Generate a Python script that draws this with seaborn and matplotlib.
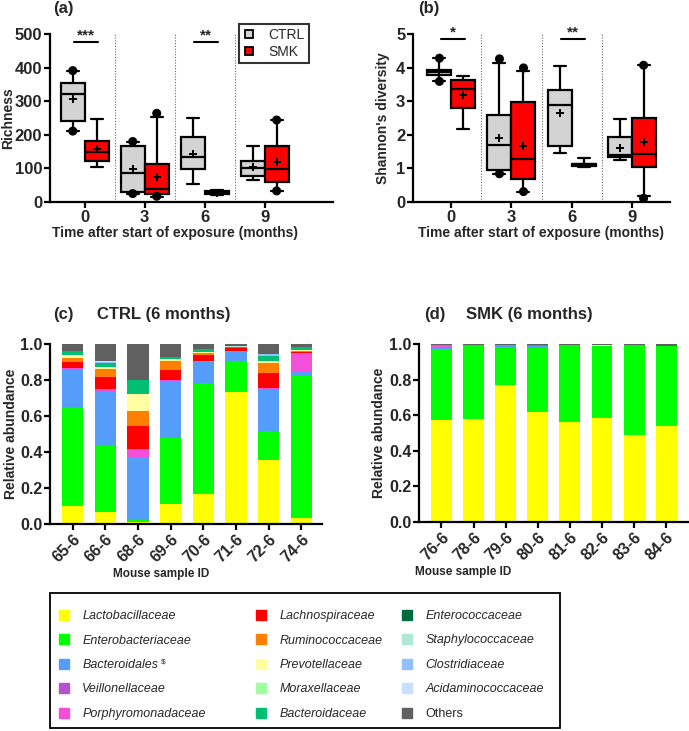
import numpy as np
import pandas as pd
import matplotlib
matplotlib.use("Agg")
import matplotlib.pyplot as plt
from matplotlib.lines import Line2D
from matplotlib.patches import Rectangle
import seaborn as sns

sns.set_theme(style="ticks")
plt.rcParams['font.family'] = ['Liberation Sans', 'DejaVu Sans']
plt.rcParams['font.weight'] = 'bold'
plt.rcParams['axes.labelweight'] = 'bold'

# ---------------- alpha diversity data ----------------
TIMES = ["0", "3", "6", "9"]
GROUPS = ["CTRL", "SMK"]
GROUP_COLORS = ["#D3D3D3", "#FF0000"]

# five-number summaries per time point: [whisker low, Q1, median, Q3, whisker high]
RICH_CTRL = [[211, 241, 321, 353, 391], [25, 30, 85, 167, 180],
             [53, 98, 133, 193, 249], [65, 78, 100, 123, 167]]
RICH_SMK = [[103, 123, 149, 183, 247], [15, 23, 39, 114, 252],
            [20, 24, 27, 32, 35], [33, 60, 98, 167, 244]]
RICH_MEAN_CTRL = [306, 97, 144, 103]
RICH_MEAN_SMK = [157, 75, 27, 118]
RICH_POINT_TIME = ["0", "0", "3", "3", "3", "3", "9", "9"]
RICH_POINT_GROUP = ["CTRL", "CTRL", "CTRL", "CTRL", "SMK", "SMK", "SMK", "SMK"]
RICH_POINT_VALUE = [211, 391, 25, 180, 17, 264, 33, 244]

SHAN_CTRL = [[3.59, 3.77, 3.87, 3.93, 4.28], [0.84, 0.95, 1.71, 2.59, 4.13],
             [1.47, 1.67, 2.89, 3.33, 4.05], [1.25, 1.35, 1.39, 1.94, 2.47]]
SHAN_SMK = [[2.16, 2.80, 3.37, 3.63, 3.74], [0.31, 0.69, 1.27, 2.98, 3.90],
            [1.05, 1.08, 1.12, 1.14, 1.32], [0.18, 1.05, 1.42, 2.51, 4.07]]
SHAN_MEAN_CTRL = [3.86, 1.90, 2.66, 1.62]
SHAN_MEAN_SMK = [3.18, 1.67, 1.13, 1.79]
SHAN_POINT_TIME = ["0", "0", "3", "3", "3", "3", "9", "9"]
SHAN_POINT_GROUP = ["CTRL", "CTRL", "CTRL", "CTRL", "SMK", "SMK", "SMK", "SMK"]
SHAN_POINT_VALUE = [3.59, 4.28, 0.84, 4.26, 0.31, 3.99, 0.11, 4.07]

SIG_TIME_A = ["0", "6"]
SIG_TEXT_A = ["***", "**"]
SIG_Y_A = 475
SIG_TIME_B = ["0", "6"]
SIG_TEXT_B = ["*", "**"]
SIG_Y_B = 4.85

# ---------------- relative abundance data ----------------
FAMILIES = ["Lactobacillaceae", "Enterobacteriaceae", "Bacteroidales", "Veillonellaceae",
            "Porphyromonadaceae", "Lachnospiraceae", "Ruminococcaceae", "Prevotellaceae",
            "Moraxellaceae", "Bacteroidaceae", "Enterococcaceae", "Staphylococcaceae",
            "Clostridiaceae", "Acidaminococcaceae", "Others"]
FAMILY_COLORS = ["#FFFF00", "#00FF00", "#559DFB", "#B452CD", "#F54FD9", "#FF0000",
                 "#FF7F00", "#FFFFA0", "#A0FFA0", "#00BF73", "#006A40", "#B0E8D8",
                 "#90C0FF", "#C8E0FF", "#606060"]

CTRL_SAMPLES = ["65-6", "66-6", "68-6", "69-6", "70-6", "71-6", "72-6", "74-6"]
CTRL_LACTO = [0.100, 0.069, 0.010, 0.110, 0.165, 0.732, 0.353, 0.035]
CTRL_ENTEROBAC = [0.550, 0.369, 0.012, 0.370, 0.617, 0.174, 0.161, 0.789]
CTRL_BACTEROIDALES = [0.210, 0.294, 0.350, 0.314, 0.125, 0.055, 0.238, 0.022]
CTRL_VEILLON = [0, 0, 0, 0, 0, 0, 0, 0]
CTRL_PORPHYRO = [0.007, 0.020, 0.046, 0.008, 0, 0, 0.006, 0.102]
CTRL_LACHNO = [0.034, 0.065, 0.125, 0.054, 0.033, 0.017, 0.083, 0.008]
CTRL_RUMINO = [0.024, 0.046, 0.086, 0.050, 0.010, 0, 0.053, 0.004]
CTRL_PREVO = [0.013, 0.011, 0.091, 0.012, 0.008, 0, 0.010, 0.006]
CTRL_MORAX = [0.003, 0, 0, 0, 0, 0.002, 0, 0]
CTRL_BACTEROIDACEAE = [0.022, 0.022, 0.081, 0.008, 0.014, 0.004, 0.030, 0.019]
CTRL_ENTEROCOC = [0, 0, 0, 0.003, 0, 0, 0, 0]
CTRL_STAPHYLO = [0, 0, 0, 0, 0, 0.004, 0, 0]
CTRL_CLOSTRI = [0, 0.006, 0, 0, 0, 0, 0.008, 0]
CTRL_ACIDAMINO = [0, 0.005, 0, 0, 0, 0, 0, 0]
CTRL_OTHERS = [0.037, 0.093, 0.199, 0.071, 0.028, 0.012, 0.058, 0.015]

SMK_SAMPLES = ["76-6", "78-6", "79-6", "80-6", "81-6", "82-6", "83-6", "84-6"]
SMK_LACTO = [0.573, 0.580, 0.772, 0.620, 0.560, 0.585, 0.487, 0.539]
SMK_ENTEROBAC = [0.399, 0.410, 0.212, 0.359, 0.432, 0.403, 0.503, 0.452]
SMK_BACTEROIDALES = [0.006, 0.004, 0.010, 0.010, 0, 0, 0, 0]
SMK_VEILLON = [0, 0, 0, 0, 0, 0, 0, 0]
SMK_PORPHYRO = [0.016, 0, 0, 0, 0, 0, 0.004, 0]
SMK_LACHNO = [0, 0, 0, 0, 0, 0, 0, 0]
SMK_RUMINO = [0, 0, 0, 0, 0, 0, 0, 0]
SMK_PREVO = [0, 0, 0, 0, 0, 0, 0, 0]
SMK_MORAX = [0, 0, 0, 0, 0, 0, 0, 0]
SMK_BACTEROIDACEAE = [0, 0, 0, 0.005, 0, 0, 0, 0]
SMK_ENTEROCOC = [0, 0, 0, 0, 0, 0, 0, 0]
SMK_STAPHYLO = [0, 0, 0, 0, 0, 0, 0, 0]
SMK_CLOSTRI = [0.003, 0.003, 0, 0, 0, 0, 0, 0]
SMK_ACIDAMINO = [0, 0, 0, 0, 0, 0.006, 0, 0]
SMK_OTHERS = [0.003, 0.003, 0.006, 0.006, 0.008, 0.006, 0.006, 0.009]

CTRL_LAYERS = [CTRL_LACTO, CTRL_ENTEROBAC, CTRL_BACTEROIDALES, CTRL_VEILLON, CTRL_PORPHYRO,
               CTRL_LACHNO, CTRL_RUMINO, CTRL_PREVO, CTRL_MORAX, CTRL_BACTEROIDACEAE,
               CTRL_ENTEROCOC, CTRL_STAPHYLO, CTRL_CLOSTRI, CTRL_ACIDAMINO, CTRL_OTHERS]
SMK_LAYERS = [SMK_LACTO, SMK_ENTEROBAC, SMK_BACTEROIDALES, SMK_VEILLON, SMK_PORPHYRO,
              SMK_LACHNO, SMK_RUMINO, SMK_PREVO, SMK_MORAX, SMK_BACTEROIDACEAE,
              SMK_ENTEROCOC, SMK_STAPHYLO, SMK_CLOSTRI, SMK_ACIDAMINO, SMK_OTHERS]

# ---------------- figure ----------------
W, H = 689, 731
fig = plt.figure(figsize=(W / 100, H / 100), dpi=100)


def px_axes(left, top, right, bottom):
    return fig.add_axes([left / W, 1 - bottom / H, (right - left) / W, (bottom - top) / H])


def style_axes(ax, tick_size):
    sns.despine(ax=ax)
    for sp in ["left", "bottom"]:
        ax.spines[sp].set_linewidth(1.6)
        ax.spines[sp].set_color("black")
    ax.tick_params(direction="out", length=4, width=1.6, color="black",
                   labelsize=tick_size, pad=1.5)
    for lab in ax.get_xticklabels() + ax.get_yticklabels():
        lab.set_fontweight("bold")


def box_panel(ax, ctrl, smk, mean_ctrl, mean_smk, pt_time, pt_group, pt_value,
              ylim, yticks, ylabel, xlim, sig_times, sig_texts, sig_y, ylab_x, xlab_x):
    rows = []
    for i, t in enumerate(TIMES):
        for g, arr in zip(GROUPS, [ctrl, smk]):
            for v in arr[i]:
                rows.append((t, g, v))
    df = pd.DataFrame(rows, columns=["time", "group", "value"])
    pal = dict(zip(GROUPS, GROUP_COLORS))
    sns.boxplot(data=df, x="time", y="value", hue="group", order=TIMES, hue_order=GROUPS,
                palette=pal, whis=(0, 100), width=0.8, gap=0, linecolor="black",
                linewidth=1.6, showfliers=False, saturation=1, legend=False, ax=ax)
    mdf = pd.DataFrame({"time": TIMES * 2, "group": ["CTRL"] * 4 + ["SMK"] * 4,
                        "value": list(mean_ctrl) + list(mean_smk)})
    sns.stripplot(data=mdf, x="time", y="value", hue="group", order=TIMES, hue_order=GROUPS,
                  dodge=True, jitter=False, marker="P", size=6,
                  palette={"CTRL": "black", "SMK": "black"}, linewidth=0,
                  legend=False, ax=ax)
    pdf = pd.DataFrame({"time": pt_time, "group": pt_group, "value": pt_value})
    sns.stripplot(data=pdf, x="time", y="value", hue="group", order=TIMES, hue_order=GROUPS,
                  dodge=True, jitter=False, marker="o", size=6.5,
                  palette={"CTRL": "black", "SMK": "black"}, linewidth=0,
                  legend=False, ax=ax)
    for xv in [0.5, 1.5, 2.5]:
        ax.axvline(xv, color="#666666", lw=0.8, ls=(0, (1, 1.5)), zorder=0)
    for t, txt in zip(sig_times, sig_texts):
        c = TIMES.index(t)
        ax.plot([c - 0.18, c + 0.22], [sig_y, sig_y], color="black", lw=1.5, clip_on=False)
        ax.text(c + 0.02, sig_y, txt, ha="center", va="bottom", fontsize=11,
                fontweight="bold")
    ax.set_xlim(*xlim)
    ax.set_ylim(*ylim)
    ax.set_yticks(yticks)
    ax.set_ylabel(ylabel, fontsize=10, fontweight="bold")
    ax.set_xlabel("Time after start of exposure (months)", fontsize=10,
                  fontweight="bold", labelpad=2)
    style_axes(ax, 12)
    ax.yaxis.set_label_coords(ylab_x, 0.5)
    ax.xaxis.set_label_coords(xlab_x, -0.143)


# panel (a)
ax_a = px_axes(50, 34, 333, 202)
box_panel(ax_a, RICH_CTRL, RICH_SMK, RICH_MEAN_CTRL, RICH_MEAN_SMK,
          RICH_POINT_TIME, RICH_POINT_GROUP, RICH_POINT_VALUE,
          (0, 500), [0, 100, 200, 300, 400, 500], "Richness", (-0.58, 4.14),
          SIG_TIME_A, SIG_TEXT_A, SIG_Y_A, -0.124, 0.443)
handles = [Line2D([], [], marker="s", ls="", mfc=c, mec="black", mew=1.3, ms=6)
           for c in GROUP_COLORS]
leg = ax_a.legend(handles, GROUPS, loc="upper left", bbox_to_anchor=(0.668, 1.06),
                  frameon=True, fancybox=False, edgecolor="black", fontsize=10,
                  handlelength=0.9, handletextpad=0.9, borderpad=0.3, labelspacing=0.2,
                  borderaxespad=0)
leg.get_frame().set_linewidth(1.5)
for t in leg.get_texts():
    t.set_fontweight("normal")

# panel (b)
ax_b = px_axes(413, 34, 670, 202)
box_panel(ax_b, SHAN_CTRL, SHAN_SMK, SHAN_MEAN_CTRL, SHAN_MEAN_SMK,
          SHAN_POINT_TIME, SHAN_POINT_GROUP, SHAN_POINT_VALUE,
          (0, 5), [0, 1, 2, 3, 4, 5], "Shannon's diversity", (-0.64, 3.64),
          SIG_TIME_B, SIG_TEXT_B, SIG_Y_B, -0.089, 0.5)


def bar_panel(ax, samples, layers, xlim, label_x, ylab_x):
    cum = np.cumsum(np.array(layers, dtype=float), axis=0)
    for k in range(len(layers) - 1, -1, -1):
        sns.barplot(x=samples, y=cum[k], order=samples, color=FAMILY_COLORS[k],
                    saturation=1, width=0.65, linewidth=0, errorbar=None, ax=ax)
    ax.set_xlim(*xlim)
    ax.set_ylim(0, 1.0)
    ax.set_yticks([0, 0.2, 0.4, 0.6, 0.8, 1.0])
    ax.set_yticklabels(["0.0", "0.2", "0.4", "0.6", "0.8", "1.0"])
    ax.set_ylabel("Relative abundance", fontsize=10, fontweight="bold")
    ax.set_xlabel("Mouse sample ID", fontsize=8.5, fontweight="bold")
    style_axes(ax, 11.5)
    plt.setp(ax.get_xticklabels(), rotation=45, ha="right", rotation_mode="anchor")
    ax.xaxis.set_label_coords(label_x, -0.245)
    ax.yaxis.set_label_coords(ylab_x, 0.5)


ax_c = px_axes(50, 344, 322, 524)
bar_panel(ax_c, CTRL_SAMPLES, CTRL_LAYERS, (-0.69, 7.63), 0.41, -0.118)
ax_d = px_axes(419, 344, 688, 522)
bar_panel(ax_d, SMK_SAMPLES, SMK_LAYERS, (-0.70, 7.68), 0.165, -0.123)

# panel labels and titles
fig.text(53 / W, 1 - 9 / H, "(a)", fontsize=12, fontweight="bold", va="center")
fig.text(418 / W, 1 - 9 / H, "(b)", fontsize=12, fontweight="bold", va="center")
fig.text(53 / W, 1 - 315 / H, "(c)", fontsize=12, fontweight="bold", va="center")
fig.text(97 / W, 1 - 315 / H, "CTRL (6 months)", fontsize=12, fontweight="bold", va="center")
fig.text(424 / W, 1 - 315 / H, "(d)", fontsize=12, fontweight="bold", va="center")
fig.text(466 / W, 1 - 315 / H, "SMK (6 months)", fontsize=12, fontweight="bold", va="center")

# bottom legend
fig.patches.append(Rectangle((50 / W, 3 / H), 510 / W, (728 - 593) / H, transform=fig.transFigure,
                             fill=False, edgecolor="black", lw=1.3))
col_x = [58, 255, 401]
bacteroidales_text = None
for ci in range(3):
    hs = [Line2D([], [], marker="s", ls="", mfc=FAMILY_COLORS[i], mec=FAMILY_COLORS[i], ms=7)
          for i in range(ci * 5, ci * 5 + 5)]
    lg = fig.legend(hs, FAMILIES[ci * 5: ci * 5 + 5], loc="upper left",
                    bbox_to_anchor=(col_x[ci] / W, 1 - 610 / H), frameon=False,
                    fontsize=9, handlelength=1.0, handletextpad=0.95, labelspacing=1.0,
                    borderpad=0, borderaxespad=0)
    for t in lg.get_texts():
        t.set_fontweight("normal")
        if t.get_text() != "Others":
            t.set_fontstyle("italic")
        if t.get_text() == "Bacteroidales":
            bacteroidales_text = t

fig.canvas.draw()
bb = bacteroidales_text.get_window_extent()
fig.text((bb.x1 + 3) / W, (bb.y1 + 1) / H, "$", fontsize=6, fontweight="normal", va="top")

fig.savefig("out.png", dpi=100)
